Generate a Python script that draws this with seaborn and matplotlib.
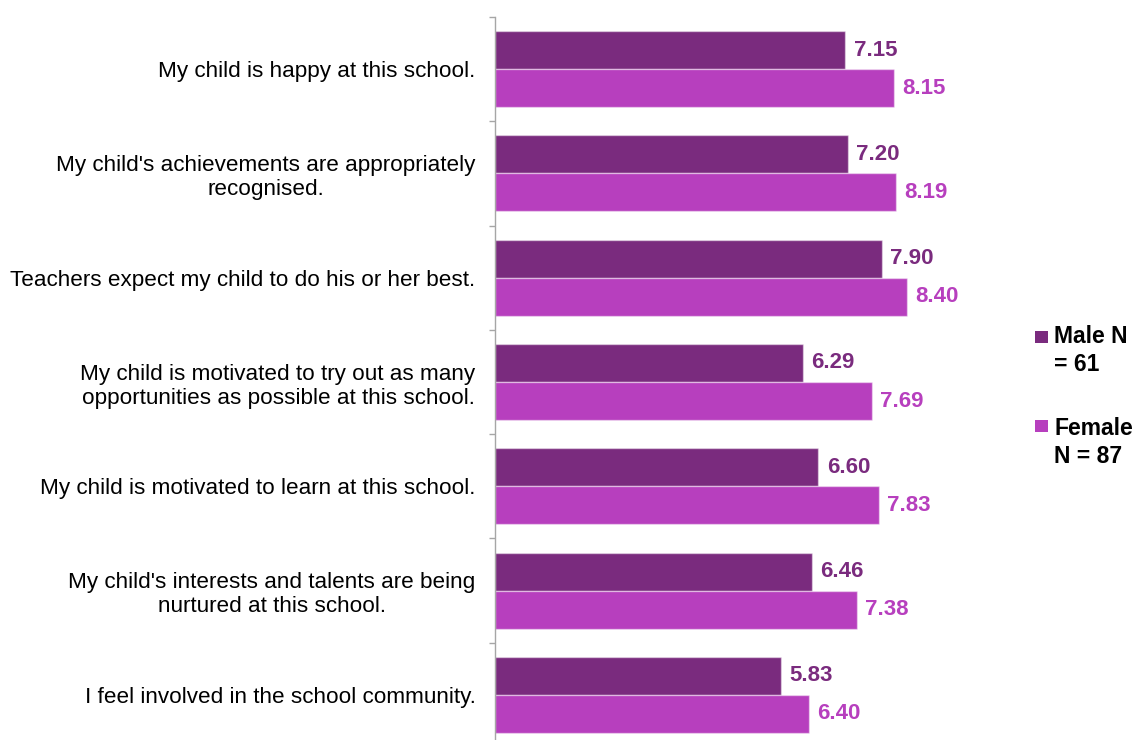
import matplotlib
matplotlib.use("Agg")
import matplotlib.pyplot as plt
from matplotlib.patches import Rectangle
import seaborn as sns
import pandas as pd

statements = [
    "My child is happy at this school.",
    "My child's achievements are appropriately\nrecognised.",
    "Teachers expect my child to do his or her best.",
    "My child is motivated to try out as many\nopportunities as possible at this school.",
    "My child is motivated to learn at this school.",
    "My child's interests and talents are being\nnurtured at this school.",
    "I feel involved in the school community.",
]
male_scores = [7.15, 7.20, 7.90, 6.29, 6.60, 6.46, 5.83]
female_scores = [8.15, 8.19, 8.40, 7.69, 7.83, 7.38, 6.40]
groups = ["Male", "Female"]
legend_lines = [["Male N", "= 61"], ["Female", "N = 87"]]
colors = ["#7A2B7E", "#B73FBE"]

df = pd.DataFrame({
    "statement": statements * 2,
    "score": male_scores + female_scores,
    "group": [groups[0]] * len(statements) + [groups[1]] * len(statements),
})

sns.set_style("white")
plt.rcParams["font.family"] = ["Liberation Sans", "DejaVu Sans"]

W, H = 1138, 740
fig = plt.figure(figsize=(W / 100, H / 100), dpi=100)
ax = fig.add_axes([495 / W, -7 / H, 490 / W, 730 / H])

sns.barplot(
    data=df, x="score", y="statement", hue="group", order=statements,
    hue_order=groups, palette=colors, saturation=1, orient="h", width=0.73,
    edgecolor=(1, 1, 1, 0.45), linewidth=1.0, legend=False, ax=ax,
)

for cont, col in zip(ax.containers, colors):
    ax.bar_label(cont, fmt="%.2f", padding=6, color=col,
                 fontsize=16, fontweight="bold")

ax.set_xlim(0, 10)
ax.set_ylim(len(statements) - 0.5, -0.5)
ax.set_xlabel("")
ax.set_ylabel("")
ax.set_xticks([])

for s in ["top", "right", "bottom"]:
    ax.spines[s].set_visible(False)
ax.spines["left"].set_color("#A6A6A6")
ax.spines["left"].set_linewidth(1.0)

ax.set_yticks(range(len(statements)))
ax.set_yticklabels(statements, fontsize=16.2, color="#000000")
ax.tick_params(axis="y", which="major", left=True, length=0, pad=14)
ax.set_yticks([i - 0.5 for i in range(len(statements) + 1)], minor=True)
ax.tick_params(axis="y", which="minor", left=True, length=4.3, width=1.0,
               color="#A6A6A6", direction="out")
for lab in ax.get_yticklabels():
    lab.set_multialignment("center")
    lab.set_linespacing(1.2)

# legend drawn as squares with two-line bold captions
sq_top = [331, 420]
base1 = [343, 435]
for col, lines, top, b in zip(colors, legend_lines, sq_top, base1):
    fig.patches.append(Rectangle((1035 / W, 1 - (top + 12) / H), 13 / W, 12 / H,
                                 transform=fig.transFigure, facecolor=col,
                                 edgecolor="none"))
    for k, txt in enumerate(lines):
        fig.text(1054 / W, 1 - (b + 28 * k) / H, txt, fontsize=16.5,
                 fontweight="bold", color="#000000", va="baseline", ha="left")

fig.savefig("out.png", dpi=100, facecolor="white")
